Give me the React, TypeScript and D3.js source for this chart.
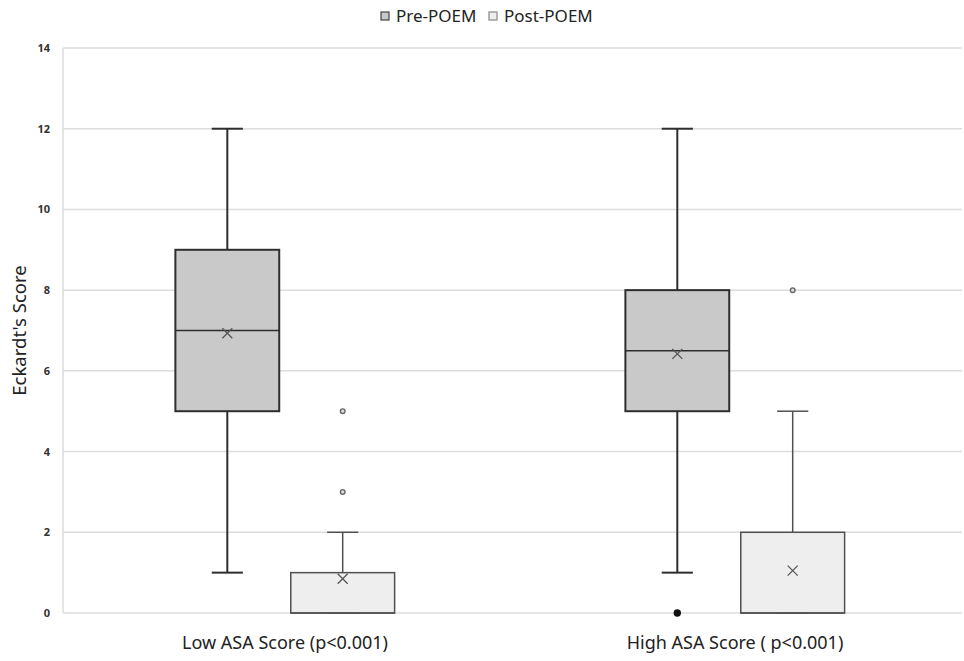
import React, { useEffect, useRef } from 'react';
import * as d3 from 'd3';

const categories = ['Low ASA Score (p<0.001)', 'High ASA Score ( p<0.001)'];
const series = ['Pre-POEM', 'Post-POEM'];

// box stats per category, order: [Pre, Post]
const whiskerLow = [
  [1, 0],
  [1, 0],
];
const q1 = [
  [5, 0],
  [5, 0],
];
const median = [
  [7, 0],
  [6.5, 0],
];
const q3 = [
  [9, 1],
  [8, 2],
];
const whiskerHigh = [
  [12, 2],
  [12, 5],
];
const means = [
  [6.93, 0.85],
  [6.42, 1.05],
];
const outliers = [
  [[], [3, 5]],
  [[0], [8]],
];

const yTicks = [0, 2, 4, 6, 8, 10, 12, 14];

const fills = ['#c9c9c9', '#eeeeee'];
const strokes = ['#2e2e2e', '#505050'];

export default function App() {
  const ref = useRef<SVGSVGElement>(null);

  useEffect(() => {
    document.body.style.margin = '0';
    const svg = d3.select(ref.current);
    svg.selectAll('*').remove();
    const font = "'Noto Sans', sans-serif";

    const y = d3.scaleLinear().domain([0, 14]).range([613, 48]);
    const x0 = d3
      .scaleBand()
      .domain(categories)
      .range([60, 960])
      .paddingInner(0.5)
      .paddingOuter(0.25);
    const x1 = d3
      .scaleBand()
      .domain(series)
      .range([0, x0.bandwidth()])
      .paddingInner(0.1)
      .paddingOuter(0.025);

    // grid
    svg
      .append('g')
      .selectAll('line')
      .data(yTicks)
      .join('line')
      .attr('x1', 63)
      .attr('x2', 962)
      .attr('y1', d => y(d))
      .attr('y2', d => y(d))
      .attr('stroke', '#dcdcdc')
      .attr('stroke-width', 1.5);

    svg
      .append('line')
      .attr('x1', 63)
      .attr('x2', 63)
      .attr('y1', y(14))
      .attr('y2', y(0))
      .attr('stroke', '#dcdcdc')
      .attr('stroke-width', 1.5);

    // y axis labels
    svg
      .append('g')
      .attr('transform', 'translate(50,0)')
      .call(d3.axisLeft(y).tickValues(yTicks).tickSize(0).tickPadding(0))
      .call(g => g.select('.domain').remove())
      .call(g =>
        g
          .selectAll('text')
          .attr('font-family', font)
          .attr('font-size', 11)
          .attr('font-weight', 'bold')
          .attr('fill', '#333'),
      );

    svg
      .append('text')
      .attr('transform', `translate(26,${(y(0) + y(14)) / 2}) rotate(-90)`)
      .attr('text-anchor', 'middle')
      .attr('font-family', font)
      .attr('font-size', 18.5)
      .attr('fill', '#222')
      .text("Eckardt's Score");

    // x axis labels
    svg
      .append('g')
      .attr('transform', 'translate(0,636)')
      .call(d3.axisBottom(x0).tickSize(0).tickPadding(0))
      .call(g => g.select('.domain').remove())
      .call(g =>
        g
          .selectAll('text')
          .attr('font-family', font)
          .attr('font-size', 18)
          .attr('fill', '#222'),
      );

    // boxes
    categories.forEach((cat, ci) => {
      series.forEach((s, si) => {
        const bx = x0(cat)! + x1(s)!;
        const bw = x1.bandwidth();
        const cx = bx + bw / 2;
        const cap = bw * 0.3;
        const g = svg.append('g');
        const sw = si === 0 ? 2 : 1.5;

        // whiskers
        g.append('line')
          .attr('x1', cx)
          .attr('x2', cx)
          .attr('y1', y(whiskerHigh[ci][si]))
          .attr('y2', y(q3[ci][si]))
          .attr('stroke', strokes[si])
          .attr('stroke-width', sw);
        g.append('line')
          .attr('x1', cx)
          .attr('x2', cx)
          .attr('y1', y(q1[ci][si]))
          .attr('y2', y(whiskerLow[ci][si]))
          .attr('stroke', strokes[si])
          .attr('stroke-width', sw);
        [whiskerHigh[ci][si], whiskerLow[ci][si]].forEach(v => {
          g.append('line')
            .attr('x1', cx - cap / 2)
            .attr('x2', cx + cap / 2)
            .attr('y1', y(v))
            .attr('y2', y(v))
            .attr('stroke', strokes[si])
            .attr('stroke-width', sw);
        });

        g.append('rect')
          .attr('x', bx)
          .attr('width', bw)
          .attr('y', y(q3[ci][si]))
          .attr('height', y(q1[ci][si]) - y(q3[ci][si]))
          .attr('fill', fills[si])
          .attr('stroke', strokes[si])
          .attr('stroke-width', sw);

        g.append('line')
          .attr('x1', bx)
          .attr('x2', bx + bw)
          .attr('y1', y(median[ci][si]))
          .attr('y2', y(median[ci][si]))
          .attr('stroke', strokes[si])
          .attr('stroke-width', 1.5);

        // mean cross
        const my = y(means[ci][si]);
        const r = 5;
        g.append('path')
          .attr('d', `M${cx - r},${my - r}L${cx + r},${my + r}M${cx - r},${my + r}L${cx + r},${my - r}`)
          .attr('stroke', '#555')
          .attr('stroke-width', 1.3)
          .attr('fill', 'none');

        // outliers
        g.selectAll('circle')
          .data(outliers[ci][si])
          .join('circle')
          .attr('cx', cx)
          .attr('cy', d => y(d))
          .attr('r', si === 0 ? 3 : 2.3)
          .attr('fill', si === 0 ? '#111' : '#ddd')
          .attr('stroke', si === 0 ? '#111' : '#666')
          .attr('stroke-width', 1.4);
      });
    });

    // legend
    const legendX = [381, 489];
    series.forEach((s, si) => {
      svg
        .append('rect')
        .attr('x', legendX[si])
        .attr('y', 12)
        .attr('width', 8)
        .attr('height', 8)
        .attr('fill', fills[si])
        .attr('stroke', si === 0 ? '#444' : '#888')
        .attr('stroke-width', 1.2);
      svg
        .append('text')
        .attr('x', legendX[si] + 15)
        .attr('y', 22)
        .attr('font-family', font)
        .attr('font-size', 17)
        .attr('fill', '#222')
        .text(s);
    });
  }, []);

  return <svg ref={ref} width={964} height={661} style={{ display: 'block' }} />;
}
